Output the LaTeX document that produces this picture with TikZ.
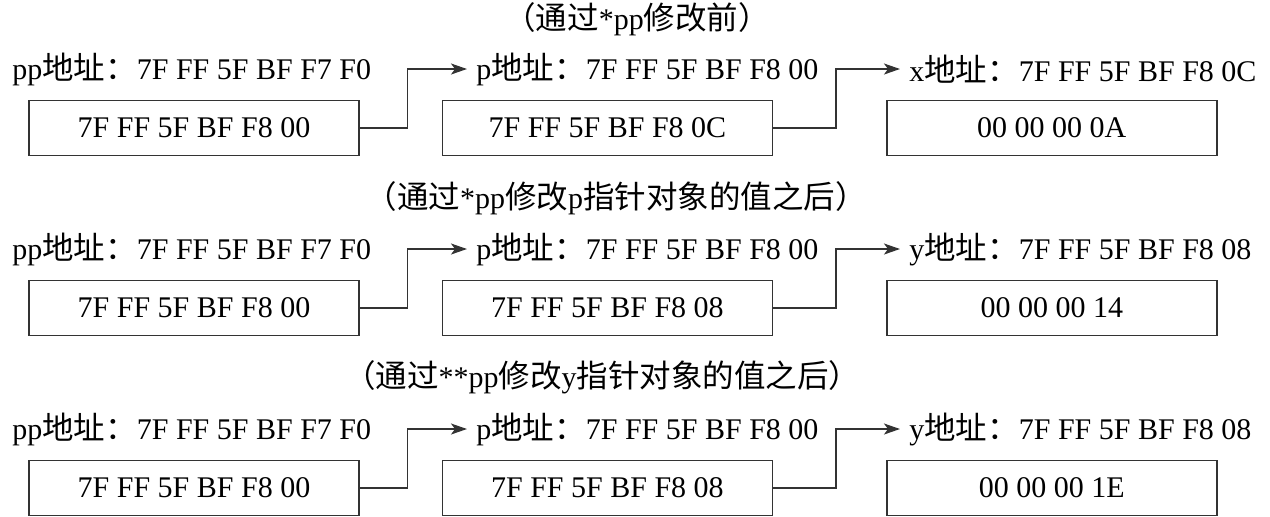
\documentclass[tikz,border=0pt]{standalone}
\usepackage{fontspec}
\setmainfont{Liberation Serif}
\newfontfamily\cjk[Scale=1.05]{Noto Sans CJK SC}
\newcommand{\zh}[1]{{\cjk #1}}
\usetikzlibrary{arrows.meta, positioning}

\begin{document}
\begin{tikzpicture}[x=0.5pt, y=-0.5pt, font=\fontsize{15}{18}\selectfont,
    membox/.style={rectangle, draw=black!80, line width=0.7pt, minimum width=165pt, minimum height=27.5pt, inner sep=0pt},
    addr/.style={anchor=west, inner xsep=4.5pt, inner ysep=1pt},
    caption/.style={inner sep=1pt},
    link/.style={draw=black!80, line width=0.7pt, -{Stealth[length=8pt, width=5.5pt, inset=2pt]}}]

    \useasboundingbox (0,0) rectangle (1270,516);

    % before the change
    \node [caption] (cap1) at (637,19) {\zh{（通过}*pp\zh{修改前）}};
    \node [addr] (ppa1) at (3,69) {pp\zh{地址：}7F FF 5F BF F7 F0};
    \node [addr] (pa1) at (467,69) {p\zh{地址：}7F FF 5F BF F8 00};
    \node [addr] (xa1) at (900,69) {x\zh{地址：}7F FF 5F BF F8 0C};
    \node [membox] (pp1) at (194,128) {7F FF 5F BF F8 00};
    \node [membox, right=41pt of pp1] (p1) {7F FF 5F BF F8 0C};
    \node [membox, right=56.5pt of p1] (x1) {00 00 00 0A};
    \path [link] (pp1.east) -- ++(24pt,0) |- (pa1.west);
    \path [link] (p1.east) -- ++(31.5pt,0) |- (xa1.west);

    % after *pp
    \node [caption] (cap2) at (616,198) {\zh{（通过}*pp\zh{修改}p\zh{指针对象的值之后）}};
    \node [addr] (ppa2) at (3,249) {pp\zh{地址：}7F FF 5F BF F7 F0};
    \node [addr] (pa2) at (467,249) {p\zh{地址：}7F FF 5F BF F8 00};
    \node [addr] (ya2) at (900,249) {y\zh{地址：}7F FF 5F BF F8 08};
    \node [membox] (pp2) at (194,308) {7F FF 5F BF F8 00};
    \node [membox, right=41pt of pp2] (p2) {7F FF 5F BF F8 08};
    \node [membox, right=56.5pt of p2] (y2) {00 00 00 14};
    \path [link] (pp2.east) -- ++(24pt,0) |- (pa2.west);
    \path [link] (p2.east) -- ++(31.5pt,0) |- (ya2.west);

    % after **pp
    \node [caption] (cap3) at (602,377) {\zh{（通过}**pp\zh{修改}y\zh{指针对象的值之后）}};
    \node [addr] (ppa3) at (3,429) {pp\zh{地址：}7F FF 5F BF F7 F0};
    \node [addr] (pa3) at (467,429) {p\zh{地址：}7F FF 5F BF F8 00};
    \node [addr] (ya3) at (900,429) {y\zh{地址：}7F FF 5F BF F8 08};
    \node [membox] (pp3) at (194,488) {7F FF 5F BF F8 00};
    \node [membox, right=41pt of pp3] (p3) {7F FF 5F BF F8 08};
    \node [membox, right=56.5pt of p3] (y3) {00 00 00 1E};
    \path [link] (pp3.east) -- ++(24pt,0) |- (pa3.west);
    \path [link] (p3.east) -- ++(31.5pt,0) |- (ya3.west);
\end{tikzpicture}
\end{document}
